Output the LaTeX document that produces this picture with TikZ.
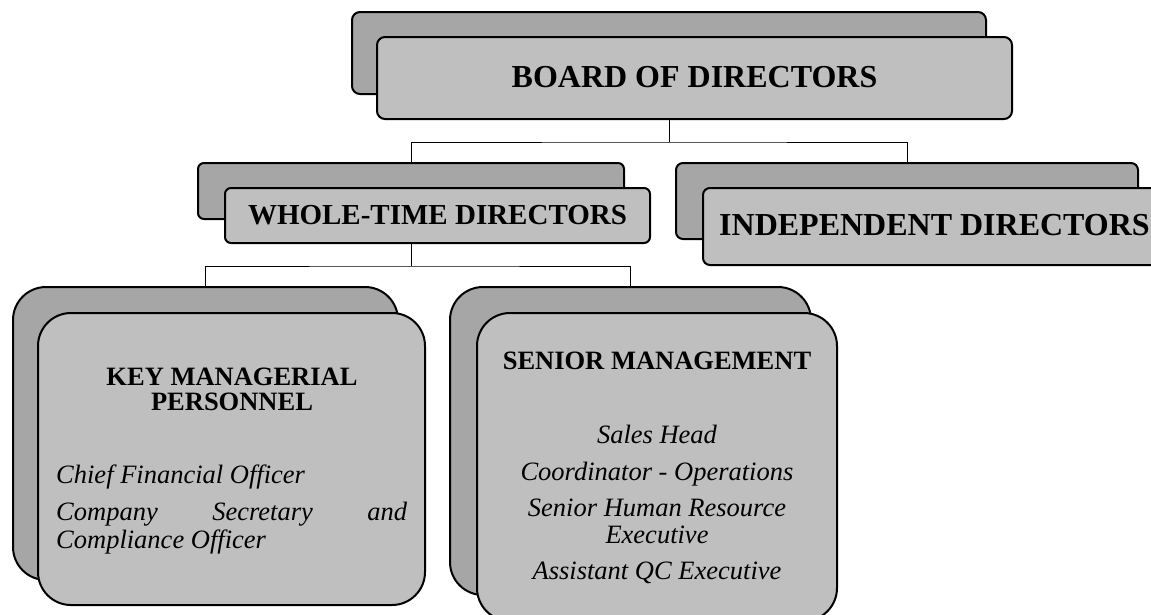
\documentclass[tikz,border=0pt]{standalone}
\usepackage{fontspec}
\setmainfont{Liberation Serif}
\definecolor{backgray}{HTML}{A6A6A6}
\definecolor{frontgray}{HTML}{BFBFBF}
\begin{document}
\begin{tikzpicture}[x=1pt,y=-1pt,
  box/.style={draw=black, line width=2pt, inner sep=0pt, rectangle},
  backbox/.style={box, fill=backgray},
  frontbox/.style={box, fill=frontgray},
  link/.style={draw=black, line width=1pt},
  hugetitle/.style={font=\fontsize{32}{34}\selectfont\bfseries, inner sep=0pt, anchor=base},
  midtitle/.style={font=\fontsize{29}{31}\selectfont\bfseries, inner sep=0pt, anchor=base},
  subtitle/.style={font=\fontsize{26.5}{25}\selectfont\bfseries, inner sep=0pt, anchor=base},
  item/.style={font=\fontsize{26.5}{27}\selectfont\itshape, inner sep=0pt, anchor=base}
]
\useasboundingbox (0,0) rectangle (1151,614);
\clip (0,0) rectangle (1151,614);

% Board of directors
\node[backbox, rounded corners=8pt, minimum width=634pt, minimum height=82pt] (bodB) at (669,53) {};
\node[frontbox, rounded corners=8pt, minimum width=635pt, minimum height=82pt] (bodF) at (694.5,78) {};
\node[hugetitle] (bodT) at (694.5,87) {BOARD OF DIRECTORS};

% Whole-time directors
\node[backbox, rounded corners=6pt, minimum width=426pt, minimum height=56pt] (wtdB) at (411,191) {};
\node[frontbox, rounded corners=6pt, minimum width=425pt, minimum height=55pt] (wtdF) at (437.5,215.5) {};
\node[midtitle] (wtdT) at (437.5,224) {WHOLE-TIME DIRECTORS};

% Independent directors
\node[backbox, rounded corners=7pt, minimum width=462pt, minimum height=76pt] (indB) at (907,201) {};
\node[frontbox, rounded corners=7pt, minimum width=463pt, minimum height=77pt] (indF) at (934.5,226.5) {};
\node[hugetitle, anchor=base west] (indT) at (719,235) {INDEPENDENT DIRECTORS};

% Key managerial personnel
\node[backbox, rounded corners=33pt, minimum width=385pt, minimum height=293pt] (kmpB) at (205.5,433.5) {};
\node[frontbox, rounded corners=33pt, minimum width=387pt, minimum height=292pt] (kmpF) at (231.5,459) {};
\node[subtitle] (kmpT1) at (232,385) {KEY MANAGERIAL};
\node[subtitle] (kmpT2) at (232,410) {PERSONNEL};
\node[item, anchor=base west] (kmpI1) at (56,483) {Chief Financial Officer};
\node[item, anchor=base west] (kmpI2) at (56,520) {\makebox[351pt][s]{Company Secretary and}};
\node[item, anchor=base west] (kmpI3) at (56,548) {Compliance Officer};

% Senior management
\node[backbox, rounded corners=33pt, minimum width=361pt, minimum height=308pt] (smB) at (630.5,441) {};
\node[frontbox, rounded corners=33pt, minimum width=360pt, minimum height=308pt] (smF) at (657,467) {};
\node[subtitle] (smT) at (657,369) {SENIOR MANAGEMENT};
\node[item] (smI1) at (657,443) {Sales Head};
\node[item] (smI2) at (657,480) {Coordinator - Operations};
\node[item] (smI3) at (657,516) {Senior Human Resource};
\node[item] (smI4) at (657,543) {Executive};
\node[item] (smI5) at (657,579) {Assistant QC Executive};

% Connectors
\coordinate (j1) at (669,142);
\draw[link] (bodB.south |- bodF.south) -- (j1);
\draw[link] (wtdB.north) |- (j1) -| (indB.north);
\coordinate (j2) at (411,266);
\draw[link] (wtdB.south |- wtdF.south) -- (j2);
\draw[link] (kmpB.north) |- (j2) -| (smB.north);
\end{tikzpicture}
\end{document}
